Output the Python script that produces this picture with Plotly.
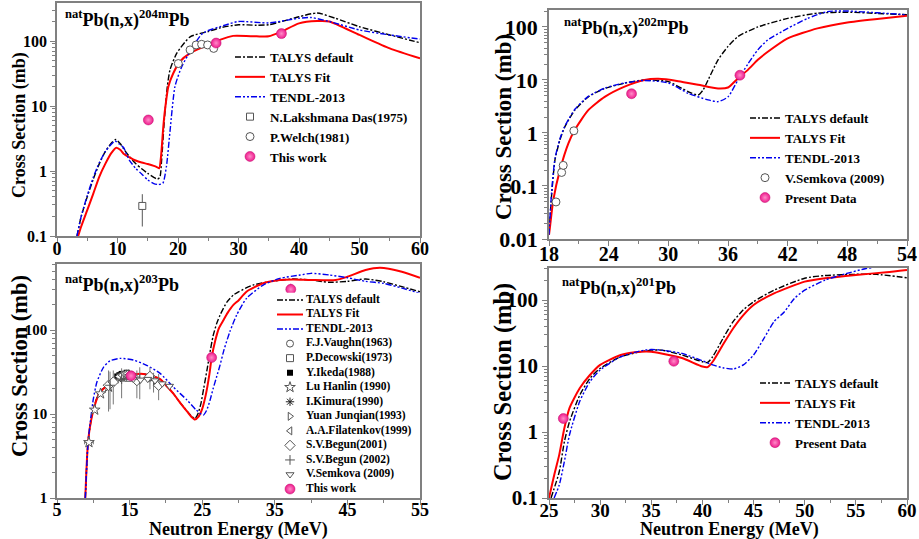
import plotly.graph_objects as go

FONT = "Liberation Serif"

# ================= DATA =================
# --- Panel A: natPb(n,x)204mPb ---
a_def_E = [3.3, 4, 5, 6, 7, 8, 9, 9.7, 10.5, 11, 12, 13, 14, 15, 16, 16.6, 17.0, 17.3, 17.74, 18.24, 18.68, 19.8, 22, 25, 27, 30, 33, 35, 38, 40, 43, 46, 50, 55, 60]
a_def_v = [0.1, 0.2, 0.40, 0.75, 1.3, 2.0, 2.7, 3.05, 2.6, 2.2, 1.65, 1.3, 1.08, 0.92, 0.8, 0.75, 0.8, 1.5, 6.1, 20, 36, 65, 116, 140, 160, 178, 175, 178, 210, 236, 270, 224, 166, 124, 94]
a_fit_E = [3.5, 4, 5, 6, 7, 8, 9, 9.8, 10.5, 11, 12, 13, 14, 15, 16, 16.5, 16.9, 17.2, 17.57, 17.85, 18.4, 19.2, 20.3, 22, 24.2, 26.9, 29.1, 33, 35, 37, 40, 43, 45, 50, 55, 60]
a_fit_v = [0.1, 0.14, 0.25, 0.45, 0.82, 1.3, 1.9, 2.28, 2.1, 1.85, 1.62, 1.45, 1.35, 1.28, 1.2, 1.15, 1.1, 1.7, 4.8, 8.7, 19.8, 31.6, 48, 65, 81, 104, 120, 118, 118, 138, 187, 203, 200, 124, 77, 54]
a_ten_E = [3.3, 4, 5, 6, 7, 8, 9, 9.6, 10.3, 11, 11.5, 12, 13, 14, 15, 16, 16.8, 17.5, 18.1, 18.7, 19.5, 20.6, 22.3, 24.1, 28, 30, 35, 40, 42, 45, 50, 55, 60]
a_ten_v = [0.1, 0.2, 0.42, 0.8, 1.35, 2.0, 2.6, 2.9, 2.6, 2.3, 1.8, 1.45, 1.1, 0.9, 0.73, 0.64, 0.62, 0.65, 1.2, 4.3, 20, 40, 77, 132, 178, 200, 190, 224, 230, 200, 148, 124, 107]
a_das_E = [14.1]
a_das_v = [0.29]
a_das_err = [0.15]
a_welch_E = [20.05, 22.0, 23.0, 23.9, 24.9, 25.9]
a_welch_v = [45, 73, 87, 89, 87, 77]
a_this_E = [15.1, 26.3, 37.1]
a_this_v = [6.1, 93, 130]

# --- Panel B: natPb(n,x)202mPb ---
b_def_E = [18.0, 18.27, 18.6, 19.1, 19.6, 20.6, 21.95, 23.6, 25.6, 27.6, 30, 32, 33, 33.5, 34, 35, 36, 37, 39, 42, 45, 48, 51, 54]
b_def_v = [0.012, 0.07, 0.31, 0.74, 1.32, 2.7, 4.8, 6.9, 8.7, 10, 9.3, 6.0, 5.2, 6.5, 10, 24, 43, 66, 100, 145, 182, 190, 180, 170]
b_fit_E = [18.0, 18.1, 18.43, 19.1, 19.95, 20.6, 21.95, 23.6, 25.6, 27.6, 29, 31, 33, 35, 36, 37, 38, 39, 40, 42, 45, 48, 51, 54]
b_fit_v = [0.012, 0.017, 0.054, 0.2, 0.64, 1.15, 2.7, 4.8, 7.5, 10, 10.5, 9.5, 8.1, 6.9, 7.2, 10.7, 15.5, 24, 34, 61, 94, 122, 142, 162]
b_ten_E = [18.0, 18.27, 18.6, 19.1, 19.6, 20.6, 21.95, 23.6, 25.6, 27.6, 30, 32, 34, 35, 36, 37, 38, 39, 40, 42, 44, 46, 48, 51, 54]
b_ten_v = [0.012, 0.08, 0.33, 0.78, 1.35, 2.8, 4.9, 7.0, 8.8, 9.8, 8.8, 5.6, 4.2, 3.9, 4.8, 10, 20, 37, 57, 94, 145, 195, 200, 185, 170]
b_sem_E = [18.7, 19.27, 19.43, 20.5]
b_sem_v = [0.05, 0.18, 0.245, 1.1]
b_this_E = [26.3, 37.2]
b_this_v = [5.5, 12.3]

# --- Panel C: natPb(n,x)203Pb ---
c_def_E = [8.9, 9.3, 10, 10.9, 12.3, 13.5, 14.6, 16, 16.9, 18, 19.2, 20, 21, 22, 23, 23.5, 24, 24.4, 24.8, 25.2, 25.7, 26.0, 26.5, 27.0, 27.45, 28.4, 29.3, 30, 32, 35, 37.5, 40, 42.5, 45, 47.5, 50, 52.5, 55]
c_def_v = [1.0, 4.9, 11.5, 18.5, 23, 26.5, 29, 30, 30, 28.5, 26, 22, 17.6, 13.5, 10.6, 9.5, 8.8, 10, 13, 20, 35, 50, 85, 120, 150, 215, 261, 285, 343, 385, 405, 394, 370, 380, 405, 376, 328, 286]
c_fit_E = [8.9, 9.3, 10, 10.9, 12.3, 13.5, 14.6, 16, 16.9, 18, 19.2, 20, 21, 22, 23, 23.5, 24, 24.5, 25, 25.5, 26, 26.3, 26.8, 27.3, 27.9, 28.5, 29.3, 30, 31.1, 33.4, 35.7, 37.5, 40, 43.4, 45, 47.5, 49.5, 52.5, 55]
c_fit_v = [1.0, 4.9, 11, 18, 23, 26.5, 29, 30, 30, 28.5, 26, 22, 17.6, 13.5, 10.5, 9.3, 8.6, 9.3, 11.5, 17, 30, 47, 75, 105, 130, 160, 199, 225, 286, 360, 394, 400, 395, 394, 431, 518, 552, 495, 419]
c_ten_E = [8.9, 9.3, 10, 10.5, 11.4, 12.3, 13.7, 15.5, 17.35, 19.2, 21, 22.9, 24.2, 25.15, 25.6, 26.07, 26.5, 27, 27.45, 28, 28.8, 29.75, 31.1, 33.4, 35.7, 38.5, 40, 42.5, 45, 47.5, 50, 52.5, 55]
c_ten_v = [1.0, 4.8, 15, 24, 36, 43, 46, 44, 38, 30.5, 21, 14.7, 11.1, 9.7, 11, 14.5, 20, 28, 38, 58, 95, 151, 238, 343, 412, 452, 473, 452, 419, 380, 359, 316, 273]
c_vaughn_E = [14.1, 14.7]
c_vaughn_v = [27, 29]
c_decowski_E = [14.4, 14.8]
c_decowski_v = [28, 27]
c_ikeda_E = [13.3, 13.6, 13.9, 14.2, 14.6, 14.9]
c_ikeda_v = [28, 29, 30, 30, 31, 30]
c_lu_E = [9.4, 10.2, 11.0, 12.1]
c_lu_v = [4.6, 11.2, 17.5, 21]
c_lu_xerr = [0.6, 0.0, 0.0, 0.0]
c_kimura_E = [13.4, 14.1, 14.7]
c_kimura_v = [26, 28, 29]
c_yuan_E = [13.5, 14.3, 14.8]
c_yuan_v = [27, 29, 28]
c_filat_E = [13.5, 13.9, 14.3, 14.6, 14.8]
c_filat_v = [28, 29, 30, 30, 29]
c_begun01_E = [12.1, 12.75, 16.0, 17.8, 19.0]
c_begun01_v = [22, 24, 25, 28, 22]
c_begun01_up = [11, 9, 8, 8, 8]
c_begun01_dn = [11.3, 11, 9.6, 8.3, 7.4]
c_begun02_E = [12.3, 13.9, 16.4, 18.3]
c_begun02_v = [22, 26, 26, 25]
c_begun02_up = [10, 9, 10, 6]
c_begun02_dn = [10.6, 10.6, 11, 7]
c_semk_E = [15.5, 16.5, 17.5, 18.5, 19.5, 20.5]
c_semk_v = [26, 25.5, 26, 25, 23, 21.5]
c_this_E = [15.2, 26.3, 37.2]
c_this_v = [28.5, 47, 305]
c_this_err = [2.5, 4, 50]

# --- Panel D: natPb(n,x)201Pb ---
d_def_E = [25.2, 26, 26.5, 27, 28, 29, 30, 32, 34, 35, 36, 38, 40, 40.5, 41, 42, 43, 44, 45, 47, 50, 52, 55, 57, 60]
d_def_v = [0.1, 0.25, 0.71, 1.43, 3.6, 6.5, 9.2, 13.8, 16.5, 17.4, 17.4, 14.7, 11.6, 11.3, 13.8, 26, 47, 71, 94, 141, 214, 235, 245, 245, 217]
d_fit_E = [25.0, 25.5, 26, 26.5, 27, 28, 29, 30, 32, 34, 35, 36, 38, 40, 40.5, 41, 42, 43, 44, 45, 47, 50, 52, 55, 58, 60]
d_fit_v = [0.1, 0.22, 0.45, 1.14, 2.3, 4.6, 7.3, 10.4, 14.7, 16.5, 16.5, 15.5, 13.2, 9.8, 9.6, 11.6, 21, 37, 59, 84, 126, 190, 214, 240, 263, 285]
d_ten_E = [25.5, 26, 26.5, 27, 28, 29, 30, 32, 34, 35, 36, 38, 40, 41, 42, 43, 44, 45, 46, 47, 48, 49, 50, 52, 54, 56, 58, 60]
d_ten_v = [0.1, 0.157, 0.355, 0.9, 2.9, 5.8, 8.7, 13.8, 17, 17.8, 17.4, 15.5, 12, 10.4, 9.4, 9.0, 10.4, 14.7, 26, 47, 66, 106, 141, 200, 250, 300, 330, 340]
d_this_E = [26.4, 37.2]
d_this_v = [1.6, 11.8]
d_this_err = [0.2, 1.5]

# tick labels
a_yticks = [0.1, 1, 10, 100]
b_yticks = [0.01, 0.1, 1, 10, 100]
c_yticks = [1, 10, 100]
d_yticks = [0.1, 1, 10, 100]
a_xticks = [0, 10, 20, 30, 40, 50, 60]
b_xticks = [18, 24, 30, 36, 42, 48, 54]
c_xticks = [5, 15, 25, 35, 45, 55]
d_xticks = [25, 30, 35, 40, 45, 50, 55, 60]

lbl_def, lbl_fit, lbl_ten = "TALYS default", "TALYS Fit", "TENDL-2013"
c_legend_labels = ["TALYS default", "TALYS Fit", "TENDL-2013", "F.J.Vaughn(1963)", "P.Decowski(1973)",
                   "Y.Ikeda(1988)", "Lu Hanlin (1990)", "I.Kimura(1990)", "Yuan Junqian(1993)",
                   "A.A.Filatenkov(1999)", "S.V.Begun(2001)", "S.V.Begun (2002)", "V.Semkova (2009)", "This work"]

# ================= STYLE =================
DEF_LINE = dict(color="black", width=1.4, dash="6px,2px,2px,2px")
FIT_LINE = dict(color="#ff0000", width=2)
TEN_LINE = dict(color="#0000ee", width=1.4, dash="6px,2px,2px,2px,2px,2px")
GRAY = "#555555"
PINK = "#ee1a8c"
PINK_MARKER = dict(color=PINK, size=10, symbol="circle", gradient=dict(type="radial", color="#ff8cc8"),
                   line=dict(color="#c0106e", width=0.5))


def open_marker(symbol, size=7):
    return dict(symbol=symbol, size=size, color="white", line=dict(color=GRAY, width=1))


fig = go.Figure()


def add_models(xa, ya, leg, dE, dv, fE, fv, tE, tv, show=True):
    for E, v, line, name in [(dE, dv, DEF_LINE, lbl_def), (fE, fv, FIT_LINE, lbl_fit), (tE, tv, TEN_LINE, lbl_ten)]:
        fig.add_trace(go.Scatter(x=E, y=v, mode="lines", line=dict(line, shape="spline", smoothing=0.6), name=name,
                                 xaxis=xa, yaxis=ya, legend=leg, showlegend=show))


# Panel A
add_models("x", "y", "legend", a_def_E, a_def_v, a_fit_E, a_fit_v, a_ten_E, a_ten_v)
fig.add_trace(go.Scatter(x=a_das_E, y=a_das_v, mode="markers", name="N.Lakshmana Das(1975)",
                         marker=open_marker("square", 7),
                         error_y=dict(type="data", array=a_das_err, color=GRAY, thickness=1, width=0),
                         xaxis="x", yaxis="y", legend="legend"))
fig.add_trace(go.Scatter(x=a_welch_E, y=a_welch_v, mode="markers", name="P.Welch(1981)",
                         marker=open_marker("circle", 8), xaxis="x", yaxis="y", legend="legend"))
fig.add_trace(go.Scatter(x=a_this_E, y=a_this_v, mode="markers", name="This work",
                         marker=PINK_MARKER, xaxis="x", yaxis="y", legend="legend"))

# Panel B
add_models("x2", "y2", "legend2", b_def_E, b_def_v, b_fit_E, b_fit_v, b_ten_E, b_ten_v)
fig.add_trace(go.Scatter(x=b_sem_E, y=b_sem_v, mode="markers", name="V.Semkova (2009)",
                         marker=open_marker("circle", 8), xaxis="x2", yaxis="y2", legend="legend2"))
fig.add_trace(go.Scatter(x=b_this_E, y=b_this_v, mode="markers", name="Present Data",
                         marker=PINK_MARKER, xaxis="x2", yaxis="y2", legend="legend2"))

# Panel C
add_models("x3", "y3", "legend", c_def_E, c_def_v, c_fit_E, c_fit_v, c_ten_E, c_ten_v, show=False)
c_sets = [
    (c_vaughn_E, c_vaughn_v, open_marker("circle", 7), None, None, None),
    (c_decowski_E, c_decowski_v, open_marker("square", 7), None, None, None),
    (c_ikeda_E, c_ikeda_v, dict(symbol="square", size=6, color="black"), None, None, None),
    (c_lu_E, c_lu_v, open_marker("star", 8), c_lu_xerr, None, None),
    (c_kimura_E, c_kimura_v, dict(symbol="asterisk-open", size=7, color="#222222", line=dict(color="#222222", width=1)), None, None, None),
    (c_yuan_E, c_yuan_v, open_marker("triangle-right", 7), None, None, None),
    (c_filat_E, c_filat_v, open_marker("triangle-left", 7), None, None, None),
    (c_begun01_E, c_begun01_v, open_marker("diamond", 8), None, c_begun01_up, c_begun01_dn),
    (c_begun02_E, c_begun02_v, dict(symbol="cross-thin-open", size=7, color=GRAY, line=dict(color=GRAY, width=1)), None, c_begun02_up, c_begun02_dn),
    (c_semk_E, c_semk_v, open_marker("triangle-down", 7), None, None, None),
]
for (E, v, mk, xerr, up, dn), name in zip(c_sets, c_legend_labels[3:13]):
    kw = {}
    if xerr is not None:
        kw["error_x"] = dict(type="data", array=xerr, color="#777777", thickness=1, width=2)
    if up is not None:
        kw["error_y"] = dict(type="data", array=up, arrayminus=dn, color="#777777", thickness=1, width=0)
    fig.add_trace(go.Scatter(x=E, y=v, mode="markers", name=name, marker=mk, xaxis="x3", yaxis="y3",
                             showlegend=False, **kw))
fig.add_trace(go.Scatter(x=c_this_E, y=c_this_v, mode="markers", name="This work", marker=PINK_MARKER,
                         error_y=dict(type="data", array=c_this_err, color=PINK, thickness=1.2, width=0),
                         xaxis="x3", yaxis="y3", showlegend=False))

# Panel C legend (compact, drawn on a hidden helper axis)
leg_rows = list(range(len(c_legend_labels)))
for i, line in enumerate([DEF_LINE, FIT_LINE, TEN_LINE]):
    fig.add_trace(go.Scatter(x=[0, 26], y=[leg_rows[i]] * 2, mode="lines", line=line, xaxis="x5", yaxis="y5",
                             showlegend=False, hoverinfo="skip"))
for j, (E, v, mk, xerr, up, dn) in enumerate(c_sets):
    fig.add_trace(go.Scatter(x=[13], y=[leg_rows[3 + j]], mode="markers", marker=mk, xaxis="x5", yaxis="y5",
                             showlegend=False, hoverinfo="skip"))
fig.add_trace(go.Scatter(x=[13], y=[leg_rows[13]], mode="markers", marker=PINK_MARKER, xaxis="x5", yaxis="y5",
                         showlegend=False, hoverinfo="skip"))
fig.add_trace(go.Scatter(x=[29] * len(c_legend_labels), y=leg_rows, mode="text", text=c_legend_labels,
                         textposition="middle right",
                         textfont=dict(family=FONT, size=11.5, color="black", weight="bold"),
                         xaxis="x5", yaxis="y5", showlegend=False, hoverinfo="skip"))

# Panel D
add_models("x4", "y4", "legend3", d_def_E, d_def_v, d_fit_E, d_fit_v, d_ten_E, d_ten_v)
fig.add_trace(go.Scatter(x=d_this_E, y=d_this_v, mode="markers", name="Present Data", marker=PINK_MARKER,
                         error_y=dict(type="data", array=d_this_err, color=PINK, thickness=1.2, width=0),
                         xaxis="x4", yaxis="y4", legend="legend3"))

# ================= LAYOUT =================
W, H = 919, 539


def px_x(a, b):
    return [a / W, b / W]


def px_y(top, bottom):
    return [1 - bottom / H, 1 - top / H]


AX_COLOR = "#808080"
minor_log = [m * 10 ** k for k in range(-3, 4) for m in range(2, 10)]


def xax(domain, rng, ticks, minor_dt, anchor, fs, standoff=-9):
    return dict(domain=domain, range=rng, anchor=anchor, tickmode="array", tickvals=ticks,
                showline=True, linecolor=AX_COLOR, linewidth=1.5, mirror=True,
                ticks="outside", ticklen=5, tickwidth=1.2, tickcolor=AX_COLOR, ticklabelstandoff=standoff,
                minor=dict(ticks="outside", ticklen=3, tickwidth=1, tickcolor=AX_COLOR, dtick=minor_dt, showgrid=False),
                showgrid=False, zeroline=False, automargin=False,
                tickfont=dict(family=FONT, size=fs, color="black", weight="bold"))


def yax(domain, rng, ticks, anchor, fs):
    return dict(domain=domain, range=rng, type="log", anchor=anchor, tickmode="array", tickvals=ticks,
                ticktext=[("%g" % t) for t in ticks],
                showline=True, linecolor=AX_COLOR, linewidth=1.5, mirror=True,
                ticks="outside", ticklen=5, tickwidth=1.2, tickcolor=AX_COLOR,
                minor=dict(ticks="outside", ticklen=3, tickwidth=1, tickcolor=AX_COLOR, tickmode="array",
                           tickvals=minor_log, showgrid=False),
                showgrid=False, zeroline=False, automargin=False,
                tickfont=dict(family=FONT, size=fs, color="black", weight="bold"))


LEG_FONT = dict(family=FONT, size=13, color="black", weight="bold")

fig.update_layout(
    width=W, height=H, margin=dict(l=0, r=0, t=0, b=0, autoexpand=False),
    paper_bgcolor="white", plot_bgcolor="white",
    xaxis=xax(px_x(57, 420), [0, 60], a_xticks, 5, "y", 18),
    yaxis=yax(px_y(3, 236), [-1, 2.585], a_yticks, "x", 16),
    xaxis2=xax(px_x(549, 907), [18, 54], b_xticks, 3, "y2", 20),
    yaxis2=yax(px_y(10, 239), [-2, 2.32], b_yticks, "x2", 22),
    xaxis3=xax(px_x(57, 420), [5, 55], c_xticks, 5, "y3", 18, -10),
    yaxis3=yax(px_y(264, 498), [0, 2.786], c_yticks, "x3", 15),
    xaxis4=xax(px_x(549, 907), [25, 60], d_xticks, 2.5, "y4", 19, -11),
    yaxis4=yax(px_y(268, 498), [-1, 2.485], d_yticks, "x4", 21),
    xaxis5=dict(domain=px_x(277, 420), range=[0, 143], anchor="y5", visible=False, fixedrange=True),
    yaxis5=dict(domain=px_y(292.7, 496.3), range=[13.5, -0.5], anchor="x5", visible=False, fixedrange=True),
    legend=dict(x=230 / W, y=1 - 42 / H, xanchor="left", yanchor="top", bgcolor="rgba(0,0,0,0)",
                font=LEG_FONT, tracegroupgap=0),
    legend2=dict(x=745 / W, y=1 - 103 / H, xanchor="left", yanchor="top", bgcolor="rgba(0,0,0,0)",
                 font=LEG_FONT, tracegroupgap=0),
    legend3=dict(x=755 / W, y=1 - 368 / H, xanchor="left", yanchor="top", bgcolor="rgba(0,0,0,0)",
                 font=LEG_FONT, tracegroupgap=0),
)

titles = [
    ("<sup>nat</sup>Pb(n,x)<sup>204m</sup>Pb", 63, 19),
    ("<sup>nat</sup>Pb(n,x)<sup>202m</sup>Pb", 562, 27),
    ("<sup>nat</sup>Pb(n,x)<sup>203</sup>Pb", 63, 284),
    ("<sup>nat</sup>Pb(n,x)<sup>201</sup>Pb", 560, 287),
]
for text, x, y in titles:
    fig.add_annotation(text=text, x=x / W, y=1 - y / H, xref="paper", yref="paper", xanchor="left",
                       yanchor="middle", showarrow=False,
                       font=dict(family=FONT, size=18, color="black", weight="bold"))

ytitles = [(20, 125, 18), (503, 127, 23), (19, 366, 22.5), (503, 382, 24.5)]
for x, y, fs in ytitles:
    fig.add_annotation(text="Cross Section (mb)", x=x / W, y=1 - y / H, xref="paper", yref="paper",
                       textangle=-90, showarrow=False, xanchor="center", yanchor="middle",
                       font=dict(family=FONT, size=fs, color="black", weight="bold"))
for x in (238, 729):
    fig.add_annotation(text="Neutron Energy (MeV)", x=x / W, y=1 - 529 / H, xref="paper", yref="paper",
                       showarrow=False, xanchor="center", yanchor="middle",
                       font=dict(family=FONT, size=18, color="black", weight="bold"))

fig.write_html("out.html", config={"displayModeBar": False},
               post_script="document.body.style.margin='0';document.body.style.overflow='hidden';")
